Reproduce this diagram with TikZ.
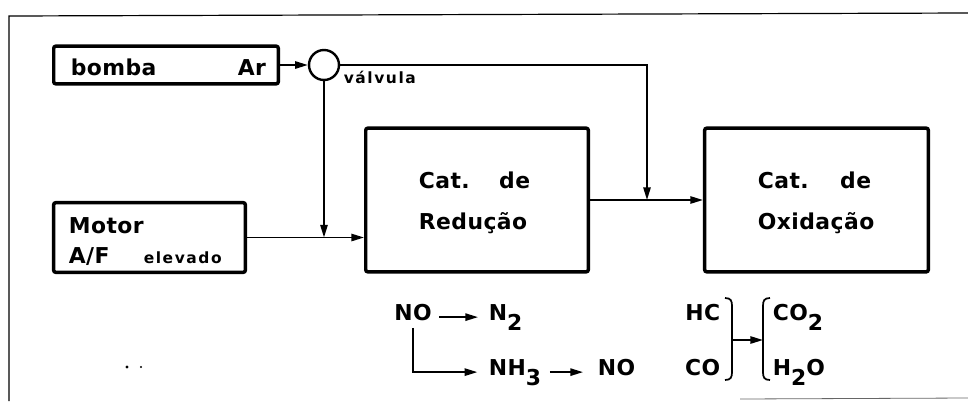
\documentclass[tikz,border=0pt]{standalone}
\usepackage{fontspec}
\newfontfamily\figfont{DejaVu Sans Bold}[LetterSpace=2]
\newfontfamily\figfontsmall{DejaVu Sans Bold}[LetterSpace=10]
\usetikzlibrary{arrows.meta}
\newcommand{\chsub}[1]{\raisebox{-0.9ex}{#1}}

\begin{document}
\begin{tikzpicture}[x=0.75pt,y=-0.75pt, line width=1.3pt,
    box/.style={draw, line width=2.6pt, rounded corners=1.5pt, inner sep=0pt},
    big/.style={font=\figfont\fontsize{16.4}{19}\selectfont, inner sep=0pt},
    small/.style={font=\figfontsmall\fontsize{11.6}{14}\selectfont, inner sep=0pt},
    flow/.style={-{Triangle[length=9.5pt,width=5.5pt]}}]
    \useasboundingbox (0,0) rectangle (968,401);
    % frame of the scanned figure
    \draw[line width=0.9pt] (968,13) -- (9,16) -- (9,401);
    \draw[line width=0.6pt, black!60] (740,399) -- (968,398);
    \fill (127,367) circle (1.3pt);
    \fill (141,367) circle (0.9pt);

    % boxes
    \node[box, minimum width=168.4pt, minimum height=28.2pt] (bomba) at (166,65) {};
    \node[draw, circle, line width=1.8pt, minimum size=22.5pt, inner sep=0pt] (valv) at (324,65) {};
    \node[box, minimum width=143.7pt, minimum height=52.2pt] (motor) at (149.5,237.5) {};
    \node[box, minimum width=166.9pt, minimum height=107.7pt] (reducao) at (477,200) {};
    \node[box, minimum width=167.7pt, minimum height=107.7pt] (oxidacao) at (816.5,200) {};

    % texts in boxes
    \node[big, anchor=base west] (tbomba) at (70,75) {bomba};
    \node[big, anchor=base west] (tar) at (237,75) {Ar};
    \node[small, anchor=base west] (tvalv) at (343,83) {válvula};
    \node[big, anchor=base west] (tmotor) at (68,233) {Motor};
    \node[big, anchor=base west] (taf) at (68,263) {A/F};
    \node[small, anchor=base west] (telev) at (143,263) {elevado};
    \node[big, anchor=base west] (tcatr) at (418,188) {Cat.};
    \node[big, anchor=base east] (tder) at (531,188) {de};
    \node[big, anchor=base west] (tred) at (418,229) {Redução};
    \node[big, anchor=base west] (tcato) at (757,188) {Cat.};
    \node[big, anchor=base east] (tdeo) at (872,188) {de};
    \node[big, anchor=base west] (toxi) at (757,229) {Oxidação};

    % gas flow
    \coordinate (jv) at (647,200);
    \coordinate (jm) at (324,237.5);
    \draw[flow] (bomba.east) -- (valv.west);
    \draw[flow] (valv.east) -| (jv);
    \draw[flow] (valv.south) -- (jm);
    \draw[flow] (motor.east) -- (reducao.west |- motor.east);
    \draw[flow] (reducao.east) -- (oxidacao.west);

    % reactions
    \node[big, anchor=base] (no) at (413,320) {NO};
    \node[big, anchor=base west] (ntwo) at (488,320) {N\chsub{2}};
    \node[big, anchor=base west] (nhthree) at (488,375) {NH\chsub{3}};
    \node[big, anchor=base west] (noout) at (597,375) {NO};
    \node[big, anchor=base east] (hc) at (721,320) {HC};
    \node[big, anchor=base east] (co) at (721,375) {CO};
    \node[big, anchor=base west] (cotwo) at (772,320) {CO\chsub{2}};
    \node[big, anchor=base west] (htwoo) at (772,375) {H\chsub{2}O};
    \draw[flow, shorten <=5pt, shorten >=7.5pt] (no.mid east) -- (ntwo.mid west);
    \draw[flow, shorten <=5pt, shorten >=8pt] (no.south) |- (nhthree.mid west);
    \draw[flow, shorten <=6pt, shorten >=10.5pt] (nhthree.mid east) -- (noout.mid west);

    % brackets
    \draw (725,298) .. controls (731,298) and (732,301) .. (732,306) -- (732,372)
        .. controls (732,377) and (731,380) .. (725,380);
    \draw (770,298) .. controls (764,298) and (763,301) .. (763,306) -- (763,372)
        .. controls (763,377) and (764,380) .. (770,380);
    \coordinate (brr) at (732,340);
    \coordinate (brl) at (763,340);
    \draw[flow] (brr) -- (brl);
\end{tikzpicture}
\end{document}
